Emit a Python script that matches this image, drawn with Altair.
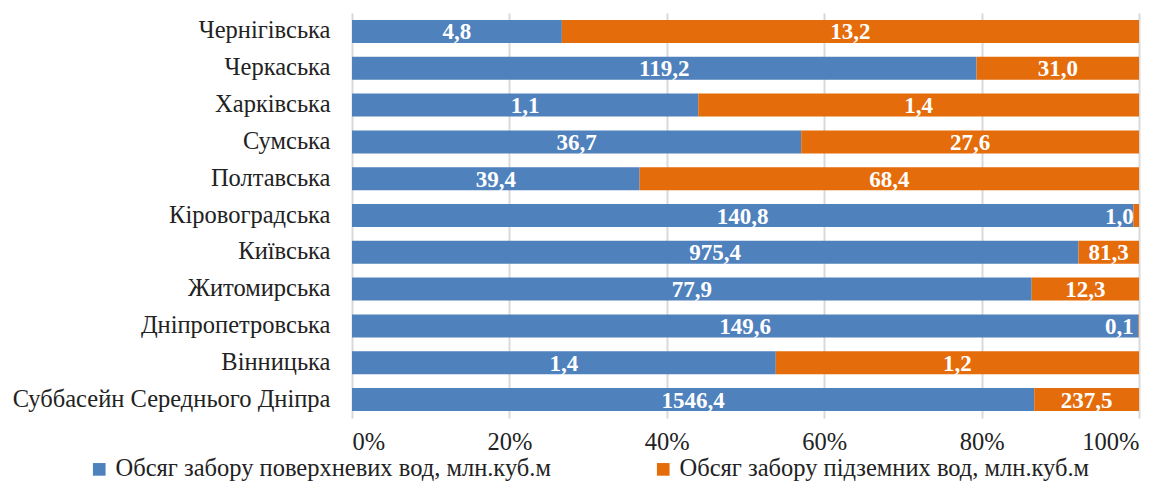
import altair as alt
import pandas as pd

regions = ["Чернігівська", "Черкаська", "Харківська", "Сумська", "Полтавська",
           "Кіровоградська", "Київська", "Житомирська", "Дніпропетровська",
           "Вінницька", "Суббасейн Середнього Дніпра"]
surface = [4.8, 119.2, 1.1, 36.7, 39.4, 140.8, 975.4, 77.9, 149.6, 1.4, 1546.4]
ground = [13.2, 31.0, 1.4, 27.6, 68.4, 1.0, 81.3, 12.3, 0.1, 1.2, 237.5]
series = ["Обсяг забору поверхневих вод, млн.куб.м",
          "Обсяг забору підземних вод, млн.куб.м"]
colors = ["#4F81BD", "#E46C0A"]

rows = []
for r, s, g in zip(regions, surface, ground):
    rows.append({"region": r, "series": series[0], "order": 0, "value": s})
    rows.append({"region": r, "series": series[1], "order": 1, "value": g})
df = pd.DataFrame(rows)

FONT = "Liberation Serif"

base = alt.Chart(df).transform_stack(
    stack="value", groupby=["region"], as_=["x0", "x1"],
    offset="normalize", sort=[alt.SortField("order", order="ascending")]
).transform_calculate(
    mid="min((datum.x0 + datum.x1) / 2, 0.975)",
    label="replace(format(datum.value, '.1f'), '.', ',')"
)

y_enc = alt.Y("region:N", sort=regions, title=None,
              scale=alt.Scale(paddingInner=0.375, paddingOuter=0.19),
              axis=alt.Axis(domain=False, ticks=False, labelFontSize=24.5,
                            labelFont=FONT, labelColor="#222222",
                            labelPadding=22, labelLimit=400))

bars = base.mark_bar().encode(
    x=alt.X("x0:Q", title=None, scale=alt.Scale(domain=[0, 1]),
            axis=alt.Axis(format=".0%", values=[0, 0.2, 0.4, 0.6, 0.8, 1.0],
                          domain=False, ticks=False, grid=True,
                          gridColor="#D9D9D9", gridWidth=2,
                          labelFontSize=24.5, labelFont=FONT,
                          labelColor="#222222", labelPadding=12)),
    x2="x1:Q",
    y=y_enc,
    color=alt.Color("series:N", sort=series,
                    scale=alt.Scale(domain=series, range=colors),
                    legend=alt.Legend(title=None, orient="none",
                                      direction="horizontal",
                                      legendX=-265, legendY=444,
                                      labelFontSize=24.5, labelFont=FONT,
                                      labelColor="#222222",
                                      symbolType="square", symbolSize=160,
                                      symbolStrokeWidth=0, columnPadding=100,
                                      labelLimit=600)),
)

labels = base.mark_text(color="white", fontWeight="bold", fontSize=23,
                        font=FONT, baseline="middle", align="center", dy=1).encode(
    x=alt.X("mid:Q"),
    y=alt.Y("region:N", sort=regions),
    text="label:N",
)

chart = (bars + labels).properties(
    width=787, height=405,
    autosize=alt.AutoSizeParams(type="none"),
    padding={"left": 344, "top": 5, "right": 20, "bottom": 65},
).configure_view(stroke=None)

chart.save("out.html", embed_options={"renderer": "svg", "actions": False})
